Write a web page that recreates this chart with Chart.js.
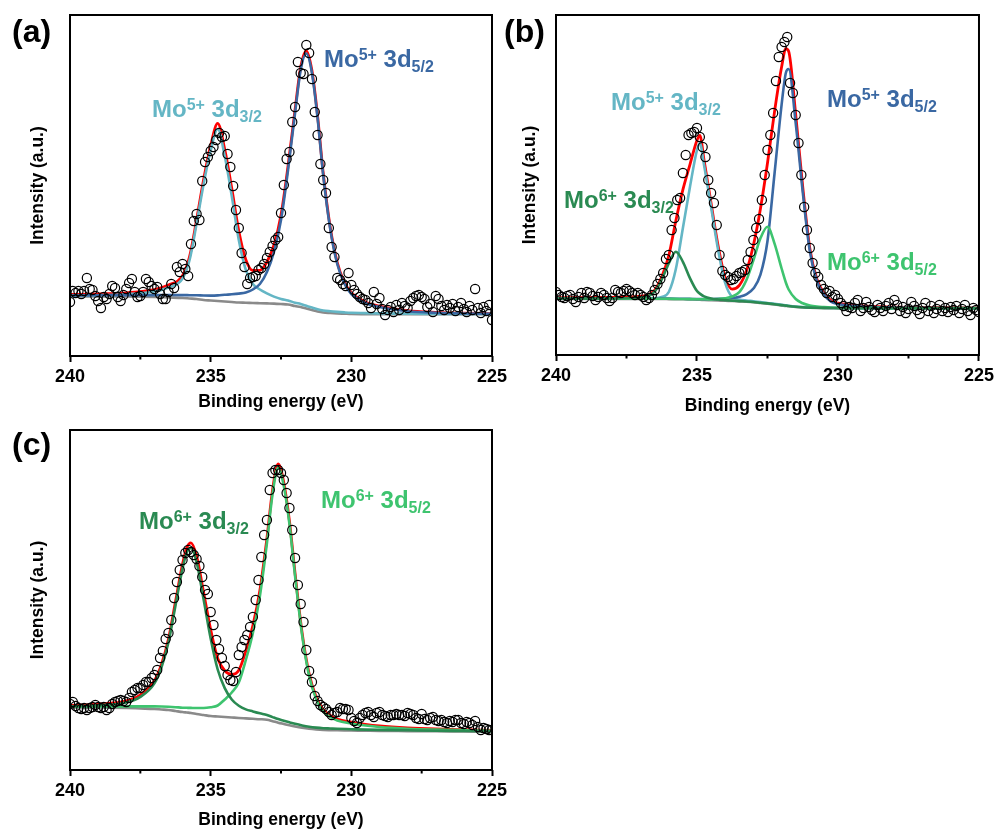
<!DOCTYPE html>
<html>
<head>
<meta charset="utf-8">
<script src="https://cdn.jsdelivr.net/npm/chart.js@4.4.1/dist/chart.umd.min.js"></script>
<style>
  body { margin: 0; background: #fff; }
  #page { position: relative; width: 998px; height: 834px; overflow: hidden; font-family: "Liberation Sans", Arial, sans-serif; }
  .plot { position: absolute; }
  .tag { position: absolute; font-weight: bold; font-size: 32px; line-height: 32px; white-space: nowrap; color: #000; }
  .peak { position: absolute; font-weight: bold; font-size: 24px; line-height: 24px; white-space: nowrap; }
  .peak sup, .peak sub { font-size: 16px; line-height: 0; position: relative; vertical-align: baseline; }
  .peak sup { top: -7px; }
  .peak sub { top: 5px; }
</style>
</head>
<body>
<div id="page">
  <canvas id="plotA" class="plot" width="520" height="420" style="left:0;top:0"></canvas>
  <canvas id="plotB" class="plot" width="498" height="420" style="left:500px;top:0"></canvas>
  <canvas id="plotC" class="plot" width="520" height="414" style="left:0;top:420px"></canvas>

  <div class="tag" style="left:12px;top:15px">(a)</div>
  <div class="tag" style="left:504px;top:15px">(b)</div>
  <div class="tag" style="left:12px;top:428px">(c)</div>

  <div class="peak" style="left:152px;top:97px;color:#64b6c5">Mo<sup>5+</sup> 3d<sub>3/2</sub></div>
  <div class="peak" style="left:324px;top:47px;color:#3a68a3">Mo<sup>5+</sup> 3d<sub>5/2</sub></div>

  <div class="peak" style="left:611px;top:90px;color:#64b6c5">Mo<sup>5+</sup> 3d<sub>3/2</sub></div>
  <div class="peak" style="left:827px;top:87px;color:#3a68a3">Mo<sup>5+</sup> 3d<sub>5/2</sub></div>
  <div class="peak" style="left:564px;top:188px;color:#2a8a52">Mo<sup>6+</sup> 3d<sub>3/2</sub></div>
  <div class="peak" style="left:827px;top:250px;color:#3ec46f">Mo<sup>6+</sup> 3d<sub>5/2</sub></div>

  <div class="peak" style="left:139px;top:509px;color:#2a8a52">Mo<sup>6+</sup> 3d<sub>3/2</sub></div>
  <div class="peak" style="left:321px;top:488px;color:#3ec46f">Mo<sup>6+</sup> 3d<sub>5/2</sub></div>
</div>
<script>
const FONT = '"Liberation Sans", Arial, sans-serif';

// binding energies of the measured scan (eV), shared by all three spectra
const scanEV = [
  240.0, 239.9, 239.8, 239.7, 239.6, 239.5, 239.4, 239.3, 239.2, 239.1,
  239.0, 238.9, 238.8, 238.7, 238.6, 238.5, 238.4, 238.3, 238.2, 238.1,
  238.0, 237.9, 237.8, 237.7, 237.6, 237.5, 237.4, 237.3, 237.2, 237.1,
  237.0, 236.9, 236.8, 236.7, 236.6, 236.5, 236.4, 236.3, 236.2, 236.1,
  236.0, 235.9, 235.8, 235.7, 235.6, 235.5, 235.4, 235.3, 235.2, 235.1,
  235.0, 234.9, 234.8, 234.7, 234.6, 234.5, 234.4, 234.3, 234.2, 234.1,
  234.0, 233.9, 233.8, 233.7, 233.6, 233.5, 233.4, 233.3, 233.2, 233.1,
  233.0, 232.9, 232.8, 232.7, 232.6, 232.5, 232.4, 232.3, 232.2, 232.1,
  232.0, 231.9, 231.8, 231.7, 231.6, 231.5, 231.4, 231.3, 231.2, 231.1,
  231.0, 230.9, 230.8, 230.7, 230.6, 230.5, 230.4, 230.3, 230.2, 230.1,
  230.0, 229.9, 229.8, 229.7, 229.6, 229.5, 229.4, 229.3, 229.2, 229.1,
  229.0, 228.9, 228.8, 228.7, 228.6, 228.5, 228.4, 228.3, 228.2, 228.1,
  228.0, 227.9, 227.8, 227.7, 227.6, 227.5, 227.4, 227.3, 227.2, 227.1,
  227.0, 226.9, 226.8, 226.7, 226.6, 226.5, 226.4, 226.3, 226.2, 226.1,
  226.0, 225.9, 225.8, 225.7, 225.6, 225.5, 225.4, 225.3, 225.2, 225.1,
  225.0
];

// (a) raw counts
const countsA = [
  54, 65, 63, 65, 62, 65, 78, 67, 66, 60,
  55, 48, 59, 57, 62, 70, 68, 59, 55, 61,
  67, 73, 77, 64, 59, 60, 64, 77, 74, 70,
  67, 69, 62, 57, 57, 64, 72, 68, 89, 84,
  92, 87, 80, 112, 135, 142, 136, 175, 194, 199,
  205, 209, 216, 223, 219, 220, 202, 189, 170, 146,
  128, 103, 89, 72, 78, 79, 80, 86, 88, 92,
  98, 104, 110, 116, 119, 143, 171, 197, 204, 234,
  249, 294, 283, 282, 311, 303, 277, 244, 221, 192,
  176, 163, 128, 109, 99, 78, 76, 72, 70, 83,
  71, 66, 62, 59, 57, 56, 53, 48, 64, 52,
  58, 47, 41, 46, 49, 44, 51, 46, 53, 50,
  48, 55, 58, 60, 61, 59, 57, 49, 52, 44,
  60, 57, 50, 46, 51, 48, 52, 45, 49, 53,
  47, 44, 50, 46, 67, 48, 43, 49, 45, 51,
  36
];

// (b) raw counts
const countsB = [
  63, 60, 58, 57, 59, 60, 56, 53, 58, 62,
  57, 63, 62, 59, 55, 58, 62, 60, 57, 54,
  57, 65, 63, 62, 64, 66, 64, 62, 60, 62,
  60, 58, 55, 57, 60, 65, 71, 76, 82, 96,
  100, 125, 137, 155, 157, 182, 200, 220, 222, 223,
  227, 218, 208, 198, 175, 162, 152, 130, 100, 84,
  80, 78, 75, 76, 79, 82, 83, 85, 95, 103,
  115, 127, 136, 155, 180, 205, 220, 242, 274, 298,
  308, 313, 318, 272, 262, 240, 212, 180, 148, 125,
  107, 92, 82, 78, 70, 66, 62, 64, 58, 60,
  56, 52, 49, 44, 48, 47, 52, 55, 44, 47,
  53, 48, 45, 43, 50, 47, 44, 49, 52, 46,
  55, 50, 44, 48, 42, 46, 53, 49, 45, 41,
  47, 52, 44, 49, 42, 46, 50, 44, 47, 43,
  48, 45, 49, 42, 46, 50, 44, 40, 47, 45,
  43
];

// (c) raw counts
const countsC = [
  66, 68, 64, 62, 61, 62, 60, 62, 63, 65,
  63, 62, 63, 60, 62, 66, 68, 69, 70, 69,
  68, 72, 78, 80, 82, 82, 85, 88, 88, 92,
  95, 100, 112, 119, 131, 137, 150, 172, 188, 200,
  210, 217, 220, 218, 215, 211, 204, 193, 180, 176,
  158, 145, 130, 121, 112, 104, 95, 90, 89, 98,
  115, 123, 130, 135, 143, 153, 170, 190, 213, 235,
  250, 280, 297, 300, 300, 297, 290, 277, 262, 240,
  212, 185, 166, 148, 120, 99, 88, 74, 69, 65,
  63, 61, 58, 55, 57, 58, 62, 61, 61, 60,
  52, 49, 47, 52, 55, 57, 58, 55, 53, 57,
  58, 55, 54, 53, 55, 55, 56, 55, 55, 54,
  57, 56, 55, 52, 51, 56, 51, 50, 52, 53,
  50, 49, 50, 48, 47, 49, 48, 50, 50, 47,
  46, 48, 47, 45, 49, 43, 40, 42, 41, 40,
  40
];

// (a) fitted curves
const fitEvA = [240, 239, 238, 237, 236.5, 236, 235.75, 235.5, 235.25, 235, 234.75, 234.5, 234.25, 234,
  233.75, 233.5, 233.25, 233, 232.75, 232.5, 232.25, 232, 231.8, 231.6, 231.4, 231.2, 231, 230.75,
  230.5, 230.25, 230, 229.5, 229, 228, 227, 226, 225];
const envelopeA = [61.5, 62.1, 63.2, 66.4, 71, 80.4, 99.3, 136.2, 176.5, 210.4, 232.6, 206.7, 167.7, 124.9,
  96.2, 85.5, 85.7, 94, 111, 141, 190, 246.3, 289, 305.2, 285.4, 240.2, 183, 128.7,
  93.5, 73.8, 63.2, 54, 49.8, 45.3, 43.6, 42.8, 42.4];
const mo5d32A = [60.5, 60.8, 61.8, 64.5, 68.5, 77.5, 96, 132.5, 172, 205.5, 227, 200, 160, 116,
  86, 72, 66.5, 62.6, 59.4, 57, 55.5, 53.3, 52, 50.2, 48.4, 46.7, 45.5, 44.7,
  44.1, 43.6, 43.2, 42.9, 42.6, 42.3, 42.1, 42, 41.9];
const mo5d52A = [60.5, 60.8, 60.9, 60.9, 61, 60.9, 60.8, 60.7, 60.5, 60.4, 60.6, 61.2, 61.7, 62.4,
  63.5, 66.5, 72, 84, 104, 136, 186, 243, 286, 302.5, 283, 238, 181, 127,
  92, 72.5, 62, 53, 49, 44.8, 43.2, 42.5, 42.2];
const baseA = [59.5, 59.5, 59.5, 59, 58.5, 58, 57.5, 57, 56, 55.5, 55, 54.5, 54, 53.5,
  53.3, 53, 52.8, 52.6, 52.4, 52, 51.5, 50, 49, 47.5, 46, 44.5, 43.5, 43,
  42.6, 42.3, 42, 41.9, 41.8, 41.8, 41.7, 41.7, 41.7];

// (b) fitted curves
const fitEvB = [240, 239, 238, 237, 236.5, 236.25, 236, 235.75, 235.5, 235.25, 235, 234.9, 234.75, 234.5,
  234.25, 234, 233.75, 233.5, 233.25, 233, 232.75, 232.5, 232.25, 232, 231.85, 231.75, 231.5, 231.25,
  231, 230.75, 230.5, 230.25, 230, 229.5, 229, 228, 227, 226, 225];
const envelopeB = [57.2, 57.4, 57.7, 58.8, 64.9, 78.2, 99.4, 134.3, 165.3, 190.4, 214.8, 219.6, 195, 151.7,
  109.1, 77.4, 65.9, 69.7, 83.9, 109.8, 146.3, 192, 243.4, 288, 306.3, 303.7, 240.7, 168,
  106.9, 76, 62, 54.6, 51.8, 49.9, 48.8, 47.9, 47.6, 47.3, 47.1];
const mo5d32B = [56.2, 56.3, 56.4, 56.6, 56.8, 58, 63, 86, 127, 168, 205, 212, 190, 148,
  105, 72, 58, 55.5, 54.5, 53.8, 53, 52, 51.3, 50.2, 49.7, 49.3, 48.5, 48,
  47.6, 47.4, 47.2, 47.1, 47, 46.9, 46.9, 46.8, 46.8, 46.7, 46.7];
const mo5d52B = [56.5, 56.5, 56.5, 56.5, 56.5, 56.5, 56.4, 56.3, 56.2, 56.1, 56, 56, 55.9, 56,
  56.1, 56.4, 57, 58.3, 60.7, 66.4, 80.3, 114, 181.5, 250.2, 282, 286, 232, 163.1,
  104, 74, 60.5, 53.4, 51, 49.1, 48.1, 47.5, 47.2, 47, 46.9];
const mo6d52B = [56.2, 56.2, 56.2, 56.2, 56.2, 56.2, 56.2, 56.1, 56, 55.9, 55.8, 55.8, 55.7, 55.6,
  56, 56.7, 58.5, 62.8, 74.8, 94.7, 116.7, 128.3, 111.3, 86.5, 72.5, 65.5, 56, 51.7,
  49.5, 48.4, 47.9, 47.5, 47.3, 47.1, 47, 46.9, 46.9, 46.9, 46.9];
const mo6d32B = [56.3, 56.4, 56.6, 57.5, 63.4, 75.5, 91.5, 103.3, 93.2, 76.9, 63.9, 61.4, 58.7, 56.5,
  55.5, 54.9, 54.4, 53.9, 53.5, 53, 52.3, 51.6, 50.8, 49.9, 49.4, 49, 48.2, 47.7,
  47.4, 47.2, 47.1, 47, 46.9, 46.9, 46.9, 46.8, 46.8, 46.8, 46.7];
const baseB = [56, 56, 56, 56, 56, 56, 55.9, 55.8, 55.7, 55.5, 55.3, 55.2, 55.1, 54.8,
  54.5, 54.2, 54, 53.6, 53.2, 52.7, 52, 51.3, 50.5, 49.6, 49.1, 48.7, 48, 47.5,
  47.2, 47, 46.9, 46.8, 46.8, 46.7, 46.7, 46.7, 46.7, 46.7, 46.7];

// (c) fitted curves
const fitEvC = [240, 239, 238, 237.5, 237, 236.75, 236.5, 236.25, 236, 235.85, 235.7, 235.5, 235.25, 235,
  234.75, 234.5, 234.25, 234, 233.75, 233.5, 233.25, 233, 232.8, 232.6, 232.4, 232.2, 232, 231.75,
  231.5, 231.25, 231, 230.75, 230.5, 230, 229.5, 229, 228, 227, 226, 225];
const envelopeC = [64.6, 65.8, 69.1, 75.2, 89.2, 105.5, 130.9, 168.4, 205.9, 222.2, 227.1, 213.8, 177.5, 140.4,
  111.5, 99.4, 95.5, 99.7, 119, 144.4, 179.9, 231.8, 280.1, 306.1, 287.3, 249, 196.7, 137.4,
  96.1, 72.9, 60.3, 54.7, 51, 47.8, 45.6, 44, 42.1, 41, 40.3, 39.7];
const mo6d32C = [63.8, 64.8, 67.5, 73.1, 86.6, 102.5, 127.7, 164.6, 201.6, 217.5, 222, 207.8, 170.5, 131.6,
  100.5, 81.9, 70.5, 64.2, 60.6, 58.6, 56.7, 55, 52.9, 50.9, 49.3, 47.7, 46.2, 44.6,
  43.3, 42.4, 41.8, 41.5, 41.2, 40.8, 40.4, 40.1, 39.7, 39.3, 39, 38.7];
const mo6d52C = [63.3, 63.5, 63.6, 63.6, 63.6, 63.5, 63.2, 62.8, 62.3, 62.2, 62.1, 62, 62, 62.8,
  64.5, 70.5, 77.5, 87.5, 110, 137, 174, 227, 276, 302.5, 284, 246, 194, 135,
  94, 71, 58.5, 53, 49.5, 46.5, 44.5, 43, 41.3, 40.4, 39.8, 39.3];
const baseC = [62.5, 62.5, 62, 61.5, 61, 60.5, 60, 59, 58, 57.5, 57, 56, 55, 54,
  53.5, 53, 52.5, 52, 51.6, 51.2, 50.8, 50.2, 48.8, 47.3, 46, 44.7, 43.5, 42.2,
  41.2, 40.5, 40, 39.8, 39.7, 39.5, 39.3, 39.1, 38.9, 38.7, 38.5, 38.3];

const majorTicks = [240, 235, 230, 225];
const minorTicks = [237.5, 232.5, 227.5];

const RED = '#ff0000';
const BLUE = '#3a68a3';
const TEAL = '#64b6c5';
const DARK_GREEN = '#2a8a52';
const LIGHT_GREEN = '#3ec46f';
const GREY = '#8a8a8a';

// box around the plot area plus the small in-between ticks on the energy axis
const framePlugin = {
  id: 'frame',
  afterDatasetsDraw(chart) {
    const { ctx, chartArea: a } = chart;
    const x = chart.scales.x;
    ctx.save();
    ctx.strokeStyle = '#000';
    ctx.lineWidth = 2;
    ctx.strokeRect(a.left, a.top, a.right - a.left, a.bottom - a.top);
    minorTicks.forEach(v => {
      const px = x.getPixelForValue(v);
      ctx.beginPath();
      ctx.moveTo(px, a.bottom);
      ctx.lineTo(px, a.bottom + 3.5);
      ctx.stroke();
    });
    ctx.restore();
  }
};

const curve = (energy, values, color, order, width = 2.6) => ({
  data: energy.map((x, i) => ({ x, y: values[i] })),
  showLine: true,
  borderColor: color,
  borderWidth: width,
  pointRadius: 0,
  pointHoverRadius: 0,
  cubicInterpolationMode: 'monotone',
  fill: false,
  order,
  clip: 0
});

const measured = counts => ({
  data: scanEV.map((x, i) => ({ x, y: counts[i] })),
  showLine: false,
  pointStyle: 'circle',
  pointRadius: 4.6,
  pointBorderWidth: 1.2,
  borderColor: '#000',
  backgroundColor: 'rgba(255,255,255,0)',
  pointBorderColor: '#000',
  pointBackgroundColor: 'rgba(255,255,255,0)',
  order: 0,
  clip: 0
});

function drawPanel(id, area, yMax, pads, datasets) {
  const canvas = document.getElementById(id);
  const W = canvas.width, H = canvas.height;
  return new Chart(canvas, {
    type: 'scatter',
    data: { datasets },
    options: {
      responsive: false,
      animation: false,
      devicePixelRatio: 1,
      layout: { padding: { left: 0, top: area.top, right: W - area.right, bottom: 0 } },
      plugins: { legend: { display: false }, tooltip: { enabled: false } },
      scales: {
        x: {
          type: 'linear',
          reverse: true,
          min: 225,
          max: 240,
          afterBuildTicks: s => { s.ticks = majorTicks.map(v => ({ value: v })); },
          ticks: { color: '#000', padding: 4, maxRotation: 0, font: { family: FONT, size: 18, weight: 'bold' } },
          grid: { display: true, drawOnChartArea: false, drawTicks: true, tickLength: 6, tickWidth: 2, tickColor: '#000' },
          border: { display: false },
          title: {
            display: true,
            text: 'Binding energy (eV)',
            color: '#000',
            font: { family: FONT, size: 17.5, weight: 'bold' },
            padding: { top: 0, bottom: pads.x }
          },
          afterFit: s => { s.height = H - area.bottom; }
        },
        y: {
          min: 0,
          max: yMax,
          ticks: { display: false },
          grid: { display: false },
          border: { display: false },
          title: {
            display: true,
            text: 'Intensity (a.u.)',
            color: '#000',
            font: { family: FONT, size: 17.5, weight: 'bold' },
            padding: { top: pads.y, bottom: 0 }
          },
          afterFit: s => { s.width = area.left; }
        }
      }
    },
    plugins: [framePlugin]
  });
}

drawPanel('plotA', { left: 70, top: 15, right: 492, bottom: 356 }, 341, { x: 7.5, y: 27.5 }, [
  measured(countsA),
  curve(fitEvA, mo5d52A, BLUE, 1),
  curve(fitEvA, mo5d32A, TEAL, 2),
  curve(fitEvA, envelopeA, RED, 3, 2.8),
  curve(fitEvA, baseA, GREY, 4)
]);

drawPanel('plotB', { left: 56, top: 15, right: 479, bottom: 355 }, 340, { x: 3.5, y: 19.5 }, [
  measured(countsB),
  curve(fitEvB, mo6d32B, DARK_GREEN, 1),
  curve(fitEvB, mo6d52B, LIGHT_GREEN, 2),
  curve(fitEvB, mo5d52B, BLUE, 3),
  curve(fitEvB, mo5d32B, TEAL, 4),
  curve(fitEvB, envelopeB, RED, 5, 2.8),
  curve(fitEvB, baseB, GREY, 6)
]);

drawPanel('plotC', { left: 70, top: 10, right: 492, bottom: 350 }, 340, { x: 3.5, y: 27.5 }, [
  measured(countsC),
  curve(fitEvC, mo6d32C, DARK_GREEN, 1),
  curve(fitEvC, mo6d52C, LIGHT_GREEN, 2),
  curve(fitEvC, envelopeC, RED, 3, 2.8),
  curve(fitEvC, baseC, GREY, 4)
]);
</script>
</body>
</html>
